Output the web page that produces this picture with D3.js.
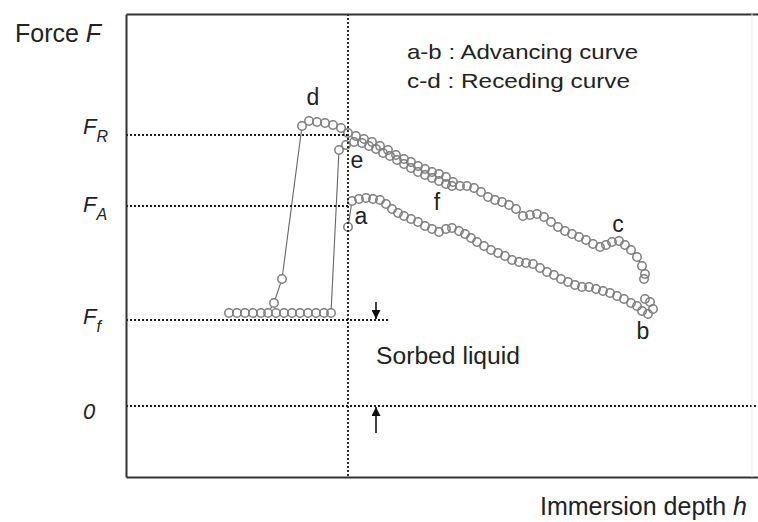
<!DOCTYPE html>
<html>
<head>
<meta charset="utf-8">
<script src="https://cdn.jsdelivr.net/npm/d3@7"></script>
<style>
  html, body { margin: 0; padding: 0; background: #fff; }
  svg { display: block; font-family: "Liberation Sans", Arial, sans-serif; }
</style>
</head>
<body>
<svg id="chart" width="758" height="522"></svg>
<script>
// Immersion depth h (mm, 0 = reference position) and measured force F (a.u.)

// a-b : advancing curve
const advH = [0.0, 0.4, 1.1, 1.8, 2.5, 3.2, 3.8, 4.4, 5.0, 5.6, 6.3, 7.0, 7.7, 8.4, 9.1, 9.8, 10.4, 11.1, 11.7, 12.3,
              12.9, 13.6, 14.3, 15.0, 15.7, 16.4, 17.1, 17.8, 18.5, 19.2, 19.9, 20.6, 21.3, 22.0, 22.7, 23.4, 24.1, 24.8,
              25.5, 26.2, 26.9, 27.6, 28.3, 28.9, 29.4, 30.0, 30.5, 30.2, 29.7];
const advF = [17.9, 20.5, 20.7, 20.8, 20.7, 20.6, 20.2, 19.7, 19.3, 19.0, 18.7, 18.4, 18.0, 17.7, 17.4, 17.7, 17.8, 17.5, 17.2, 16.8,
              16.4, 16.0, 15.6, 15.3, 15.0, 14.6, 14.4, 14.3, 14.2, 13.8, 13.4, 13.1, 12.7, 12.4, 12.1, 11.9, 11.9, 11.7,
              11.5, 11.3, 11.0, 10.7, 10.3, 10.0, 9.5, 9.2, 9.7, 10.4, 10.7];

// c-d : receding curve (listed from the detached end up to c)
const recH = [-11.9, -11.1, -10.3, -9.5, -8.7, -8.0, -7.4, -6.6, -4.6, -3.9, -3.1, -2.3, -1.5, -0.7, 0.0, 0.8, 1.6, 2.4, 3.2, 4.0,
              4.8, 5.6, 6.3, 7.0, 7.7, 8.4, 9.1, 9.8, 10.5, 11.2, 11.9, 12.6, 13.3, 14.0, 14.7, 15.4, 16.1, 16.8, 17.5,
              18.2, 18.9, 19.6, 20.3, 21.0, 21.7, 22.4, 23.1, 23.8, 24.5, 25.2, 25.8, 26.4, 27.1, 27.7, 28.3, 28.9, 29.4,
              29.7, 29.6];
const recF = [9.3, 9.3, 9.3, 9.3, 9.3, 9.3, 10.3, 12.7, 28.0, 28.5, 28.4, 28.3, 28.1, 27.8, 27.3, 27.0, 26.7, 26.4, 26.0, 25.6,
              25.1, 24.7, 24.4, 24.0, 23.7, 23.4, 23.2, 22.9, 22.4, 22.0, 22.0, 21.8, 21.4, 20.9, 20.6, 20.4, 20.1, 19.7, 19.0,
              19.1, 19.2, 18.9, 18.4, 17.9, 17.5, 17.2, 16.9, 16.6, 16.2, 15.9, 16.1, 16.4, 16.5, 16.1, 15.6, 14.9, 14.0,
              13.2, 12.7];

// e-f : second immersion of the wetted fibre
const readvH = [-7.2, -6.4, -5.6, -4.8, -4.0, -3.2, -2.4, -1.7, -0.9, -0.2, 0.6, 1.4, 2.1, 2.8, 3.5, 4.2, 4.9, 5.6, 6.3,
                7.0, 7.7, 8.4, 9.1, 9.8, 10.4];
const readvF = [9.3, 9.3, 9.3, 9.3, 9.3, 9.3, 9.3, 9.3, 25.6, 26.1, 26.4, 26.3, 26.0, 25.7, 25.3, 25.0, 24.6, 24.2, 23.8,
                23.4, 23.1, 22.8, 22.5, 22.2, 22.0];

// characteristic force levels on the vertical axis
const levelValues = [27.1, 20.0, 8.6, 0];
const levelMain = ["F", "F", "F", "0"];
const levelSub = ["R", "A", "f", ""];

// point letters along the curves
const pointLabels = ["d", "e", "a", "f", "c", "b"];
const pointLabelH = [-3.5, 0.9, 1.3, 8.9, 27.0, 29.5];
const pointLabelF = [30.9, 24.6, 19.0, 20.4, 18.2, 7.5];

const legendLines = ["a-b : Advancing curve", "c-d : Receding curve"];
const sorbedText = "Sorbed liquid";

const svg = d3.select("#chart");
const x = d3.scaleLinear().domain([-22.2, 41.0]).range([126, 758]);
const y = d3.scaleLinear().domain([-7.1, 39.2]).range([477, 14]);
const [x0, x1] = x.range();
const [yB, yT] = y.range();

const defs = svg.append("defs");
defs.append("marker")
  .attr("id", "head")
  .attr("viewBox", "0 0 10 10")
  .attr("refX", 10).attr("refY", 5)
  .attr("markerWidth", 10).attr("markerHeight", 9)
  .attr("markerUnits", "userSpaceOnUse")
  .attr("orient", "auto")
  .append("path").attr("d", "M0,0L10,5L0,10Z").attr("fill", "#111");

// ---- curves ----
const series = [[advH, advF], [recH, recF], [readvH, readvF]]
  .map(([hs, fs]) => hs.map((h, i) => ({ h, f: fs[i] })));

const line = d3.line().x(d => x(d.h)).y(d => y(d.f));
const gData = svg.append("g");
series.forEach(pts => {
  gData.append("path").datum(pts)
    .attr("d", line)
    .attr("fill", "none")
    .attr("stroke", "#666")
    .attr("stroke-width", 1.1);
});
// white discs hide the connecting line inside each marker
series.forEach(pts => {
  gData.append("g").selectAll("circle").data(pts).join("circle")
    .attr("cx", d => x(d.h)).attr("cy", d => y(d.f))
    .attr("r", 4.2).attr("fill", "#fff");
});
series.forEach(pts => {
  gData.append("g").selectAll("circle").data(pts).join("circle")
    .attr("cx", d => x(d.h)).attr("cy", d => y(d.f))
    .attr("r", 4.2).attr("fill", "none")
    .attr("stroke", "#7d7d7d").attr("stroke-width", 1.5);
});

// ---- dotted guide lines ----
const gGuide = svg.append("g")
  .attr("stroke", "#1a1a1a").attr("stroke-width", 1.8)
  .attr("stroke-dasharray", "2,2").attr("fill", "none");
const guideEnds = [x(0), x(0), x(4.2), x1];
levelValues.forEach((v, i) => {
  gGuide.append("line")
    .attr("x1", x0).attr("x2", guideEnds[i])
    .attr("y1", y(v)).attr("y2", y(v));
});
gGuide.append("line")
  .attr("x1", x(0)).attr("x2", x(0))
  .attr("y1", yT).attr("y2", yB);

// ---- frame ----
const yAxis = d3.axisLeft(y).tickValues(levelValues).tickSize(0).tickSizeOuter(0).tickFormat(() => "");
const gy = svg.append("g").attr("transform", `translate(${x0},0)`).call(yAxis);
gy.attr("font-size", null).attr("font-family", null);
gy.select(".domain").attr("stroke", "#333").attr("stroke-width", 2);

const labelShift = [-2, 5, 3, 12];
gy.selectAll(".tick text").each(function (d, i) {
  const t = d3.select(this)
    .attr("x", -43).attr("dy", null).attr("y", labelShift[i])
    .attr("text-anchor", "start")
    .attr("fill", "#222")
    .attr("font-style", "italic")
    .attr("font-size", 22);
  t.text(null);
  t.append("tspan").text(levelMain[i]);
  if (levelSub[i]) {
    t.append("tspan").attr("font-size", 16).attr("dy", 8).text(levelSub[i]);
  }
});

const xAxisB = d3.axisBottom(x).tickValues([]).tickSizeOuter(0);
svg.append("g").attr("transform", `translate(0,${yB})`).call(xAxisB)
  .select(".domain").attr("stroke", "#333").attr("stroke-width", 2);
const xAxisT = d3.axisTop(x).tickValues([]).tickSizeOuter(0);
svg.append("g").attr("transform", `translate(0,${yT})`).call(xAxisT)
  .select(".domain").attr("stroke", "#333").attr("stroke-width", 2);
svg.append("line")
  .attr("x1", 752).attr("x2", 752).attr("y1", yT).attr("y2", yB)
  .attr("stroke", "#ececec").attr("stroke-width", 1);

// ---- arrows marking the sorbed-liquid force ----
const arrowH = 2.8;
svg.append("line")
  .attr("x1", x(arrowH)).attr("x2", x(arrowH))
  .attr("y1", y(10.4)).attr("y2", y(levelValues[2]) - 1)
  .attr("stroke", "#111").attr("stroke-width", 1.6)
  .attr("marker-end", "url(#head)");
svg.append("line")
  .attr("x1", x(arrowH)).attr("x2", x(arrowH))
  .attr("y1", y(-2.7)).attr("y2", y(levelValues[3]) + 1)
  .attr("stroke", "#111").attr("stroke-width", 1.6)
  .attr("marker-end", "url(#head)");

// ---- texts ----
svg.append("text")
  .attr("x", x(arrowH)).attr("y", y(5.0))
  .attr("dy", "0.35em")
  .attr("font-size", 23).attr("fill", "#222")
  .attr("textLength", 144).attr("lengthAdjust", "spacingAndGlyphs")
  .text(sorbedText);

svg.append("g").selectAll("text").data(pointLabels).join("text")
  .attr("x", (d, i) => x(pointLabelH[i]))
  .attr("y", (d, i) => y(pointLabelF[i]))
  .attr("dy", "0.35em")
  .attr("text-anchor", "middle")
  .attr("font-size", 23).attr("fill", "#222")
  .text(d => d);

const legendLen = [231, 223];
svg.append("g").selectAll("text").data(legendLines).join("text")
  .attr("x", 407).attr("y", (d, i) => 59 + i * 29)
  .attr("font-size", 21).attr("fill", "#222")
  .attr("textLength", (d, i) => legendLen[i]).attr("lengthAdjust", "spacingAndGlyphs")
  .text(d => d);

const yTitle = svg.append("text")
  .attr("x", 15).attr("y", 42)
  .attr("font-size", 25).attr("fill", "#222");
yTitle.append("tspan").text("Force ");
yTitle.append("tspan").attr("font-style", "italic").text("F");

const xTitle = svg.append("text")
  .attr("x", 747).attr("y", 515)
  .attr("text-anchor", "end")
  .attr("font-size", 25).attr("fill", "#222");
xTitle.append("tspan").text("Immersion depth ");
xTitle.append("tspan").attr("font-style", "italic").text("h");
</script>
</body>
</html>
